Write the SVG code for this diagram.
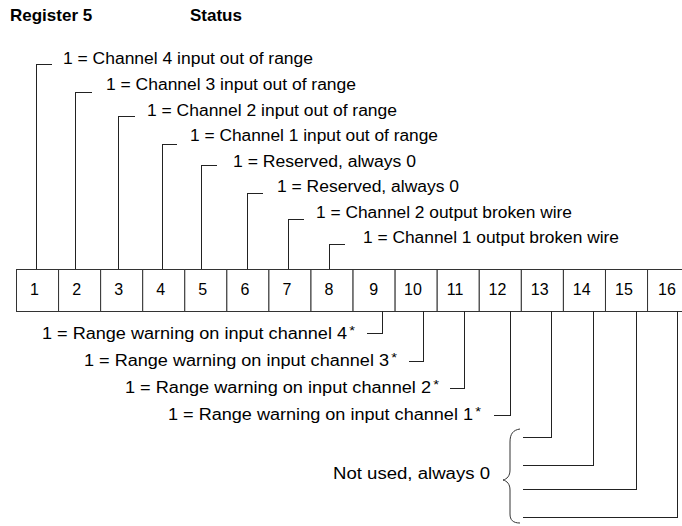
<svg xmlns="http://www.w3.org/2000/svg" width="682" height="526" viewBox="0 0 682 526">
<style>
text{font-family:"Liberation Sans",Arial,sans-serif;font-size:16px;fill:#000}
.h{font-weight:bold;font-size:17px}
.n{text-anchor:middle}
.s{font-size:13px}
.c{fill:#fff;stroke:#333;stroke-width:1}
.w{fill:none;stroke:#222;stroke-width:1;shape-rendering:crispEdges}
.b{fill:none;stroke:#333;stroke-width:1}
</style>
<rect width="682" height="526" fill="#fff"/>
<g id="header">
<text class="h" x="10" y="20.5">Register 5</text>
<text class="h" x="190" y="20.5">Status</text>
</g>
<g id="register">
<g id="bit1"><rect class="c" x="16.5" y="269.5" width="42.07" height="42"/><text class="n" x="34.5" y="295">1</text></g>
<g id="bit2"><rect class="c" x="58.57" y="269.5" width="42.07" height="42"/><text class="n" x="76.6" y="295">2</text></g>
<g id="bit3"><rect class="c" x="100.64" y="269.5" width="42.07" height="42"/><text class="n" x="118.7" y="295">3</text></g>
<g id="bit4"><rect class="c" x="142.71" y="269.5" width="42.07" height="42"/><text class="n" x="160.7" y="295">4</text></g>
<g id="bit5"><rect class="c" x="184.78" y="269.5" width="42.07" height="42"/><text class="n" x="202.8" y="295">5</text></g>
<g id="bit6"><rect class="c" x="226.85" y="269.5" width="42.07" height="42"/><text class="n" x="244.9" y="295">6</text></g>
<g id="bit7"><rect class="c" x="268.92" y="269.5" width="42.07" height="42"/><text class="n" x="287" y="295">7</text></g>
<g id="bit8"><rect class="c" x="310.99" y="269.5" width="42.07" height="42"/><text class="n" x="329" y="295">8</text></g>
<g id="bit9"><rect class="c" x="353.06" y="269.5" width="42.07" height="42"/><text class="n" x="373.6" y="295">9</text></g>
<g id="bit10"><rect class="c" x="395.13" y="269.5" width="42.07" height="42"/><text class="n" x="413" y="295">10</text></g>
<g id="bit11"><rect class="c" x="437.2" y="269.5" width="42.07" height="42"/><text class="n" x="455" y="295">11</text></g>
<g id="bit12"><rect class="c" x="479.27" y="269.5" width="42.07" height="42"/><text class="n" x="497.5" y="295">12</text></g>
<g id="bit13"><rect class="c" x="521.34" y="269.5" width="42.07" height="42"/><text class="n" x="539.7" y="295">13</text></g>
<g id="bit14"><rect class="c" x="563.41" y="269.5" width="42.07" height="42"/><text class="n" x="581.7" y="295">14</text></g>
<g id="bit15"><rect class="c" x="605.48" y="269.5" width="42.07" height="42"/><text class="n" x="624" y="295">15</text></g>
<g id="bit16"><rect class="c" x="647.55" y="269.5" width="42.07" height="42"/><text class="n" x="667" y="295">16</text></g>
</g>
<g id="connectors">
<path class="w" d="M36.5,269 V64.5 H52"/>
<path class="w" d="M75.5,269 V92.5 H92"/>
<path class="w" d="M118.5,269 V116.5 H135"/>
<path class="w" d="M162.5,269 V144.5 H177"/>
<path class="w" d="M201.5,269 V165.5 H217"/>
<path class="w" d="M247.5,269 V193.5 H263"/>
<path class="w" d="M288.5,269 V219.5 H304"/>
<path class="w" d="M329.5,269 V244.5 H345"/>
<path class="w" d="M382.5,311 V333.5 H367"/>
<path class="w" d="M423.5,311 V361.5 H409"/>
<path class="w" d="M464.5,311 V388.5 H450"/>
<path class="w" d="M510.5,311 V415.5 H494"/>
<path class="w" d="M551.5,311 V437.5 H523"/>
<path class="w" d="M593.5,311 V465.5 H523"/>
<path class="w" d="M636.5,311 V489.5 H523"/>
<path class="w" d="M677.5,311 V517.5 H523"/>
<path class="b" d="M520,429 C513,430 510,434 510,442 L510,470 C510,476 507,479 503,480 C507,481 510,484 510,490 L510,514 C510,520 513,523 520,523"/>
</g>
<g id="label-bit1"><text x="63" y="64" textLength="250" lengthAdjust="spacingAndGlyphs">1 = Channel 4 input out of range</text></g>
<g id="label-bit2"><text x="106" y="90" textLength="250" lengthAdjust="spacingAndGlyphs">1 = Channel 3 input out of range</text></g>
<g id="label-bit3"><text x="147" y="115.5" textLength="250" lengthAdjust="spacingAndGlyphs">1 = Channel 2 input out of range</text></g>
<g id="label-bit4"><text x="190" y="141" textLength="248" lengthAdjust="spacingAndGlyphs">1 = Channel 1 input out of range</text></g>
<g id="label-bit5"><text x="233" y="166.5" textLength="183" lengthAdjust="spacingAndGlyphs">1 = Reserved, always 0</text></g>
<g id="label-bit6"><text x="277" y="192" textLength="182" lengthAdjust="spacingAndGlyphs">1 = Reserved, always 0</text></g>
<g id="label-bit7"><text x="316" y="217.5" textLength="256" lengthAdjust="spacingAndGlyphs">1 = Channel 2 output broken wire</text></g>
<g id="label-bit8"><text x="363" y="243" textLength="256" lengthAdjust="spacingAndGlyphs">1 = Channel 1 output broken wire</text></g>
<g id="label-bit9"><text x="42" y="338.5" textLength="313" lengthAdjust="spacingAndGlyphs">1 = Range warning on input channel 4<tspan class="s" dx="2" dy="-4">*</tspan></text></g>
<g id="label-bit10"><text x="84" y="366" textLength="313" lengthAdjust="spacingAndGlyphs">1 = Range warning on input channel 3<tspan class="s" dx="2" dy="-4">*</tspan></text></g>
<g id="label-bit11"><text x="125" y="393" textLength="314" lengthAdjust="spacingAndGlyphs">1 = Range warning on input channel 2<tspan class="s" dx="2" dy="-4">*</tspan></text></g>
<g id="label-bit12"><text x="168" y="420" textLength="313" lengthAdjust="spacingAndGlyphs">1 = Range warning on input channel 1<tspan class="s" dx="2" dy="-4">*</tspan></text></g>
<g id="label-unused"><text x="333" y="479" textLength="157" lengthAdjust="spacingAndGlyphs">Not used, always 0</text></g>
</svg>
